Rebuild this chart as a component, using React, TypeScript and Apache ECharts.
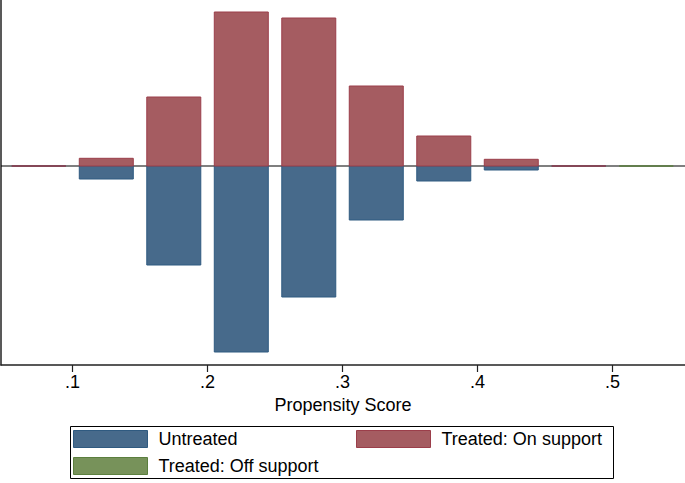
import React, { useEffect, useRef } from "react";
import * as echarts from "echarts";

const binCenters = [0.075, 0.125, 0.175, 0.225, 0.275, 0.325, 0.375, 0.425, 0.475, 0.525];
const untreated = [0, -1.3, -9.9, -18.6, -13.1, -5.4, -1.5, -0.4, 0, null];
const treatedOn = [0, 0.77, 6.9, 15.4, 14.8, 8.0, 3.0, 0.67, 0, null];
const treatedOff = [null, null, null, null, null, null, null, null, null, 0];
const tickValues = [0.1, 0.2, 0.3, 0.4, 0.5];
const tickLabels = [".1", ".2", ".3", ".4", ".5"];

const HALF = 0.02;
const FONT = "'Liberation Sans', Arial, Helvetica, sans-serif";

function toPairs(vals: (number | null)[]) {
  const out: number[][] = [];
  vals.forEach((v, i) => {
    if (v !== null) out.push([binCenters[i], v]);
  });
  return out;
}

function barSeries(name: string, vals: (number | null)[], fill: string, stroke: string, z: number) {
  return {
    type: "custom",
    name,
    z,
    itemStyle: { color: fill, borderColor: stroke },
    encode: { x: 0, y: 1 },
    data: toPairs(vals),
    renderItem: (params: any, api: any) => {
      const c = api.value(0);
      const v = api.value(1);
      const p1 = api.coord([c - HALF, v]);
      const p2 = api.coord([c + HALF, 0]);
      return {
        type: "rect",
        shape: {
          x: p1[0],
          y: Math.min(p1[1], p2[1]),
          width: p2[0] - p1[0],
          height: Math.abs(p2[1] - p1[1]),
        },
        style: { fill, stroke, lineWidth: 1 },
      };
    },
  };
}

export default function App() {
  const ref = useRef<HTMLDivElement>(null);
  useEffect(() => {
    if (!ref.current) return;
    const chart = echarts.init(ref.current, undefined, { renderer: "svg" });
    const legendText = { fontFamily: FONT, fontSize: 18, color: "#000", padding: [0, 0, 0, 6] };
    const blue = "#476a8b";
    const blueB = "#2f5a80";
    const red = "#a55c61";
    const redB = "#9b3e4a";
    const green = "#77925a";
    const greenB = "#5b7f3e";
    chart.setOption({
      animation: false,
      backgroundColor: "#fff",
      grid: { left: 1, right: 0, top: 0, bottom: 118, containLabel: false },
      xAxis: {
        type: "value",
        min: 0.047,
        max: 0.5537,
        name: "Propensity Score",
        nameLocation: "middle",
        nameGap: 28,
        nameTextStyle: { fontFamily: FONT, fontSize: 18, color: "#000" },
        axisLine: { show: true, onZero: false, lineStyle: { color: "#222", width: 1.5 } },
        axisTick: { show: true, customValues: tickValues, length: 7, lineStyle: { color: "#222", width: 1.2 } },
        axisLabel: {
          customValues: tickValues,
          margin: 8,
          fontFamily: FONT,
          fontSize: 18,
          color: "#000",
          formatter: (v: number) => {
            const i = tickValues.findIndex((t) => Math.abs(t - v) < 1e-6);
            return i >= 0 ? tickLabels[i] : "";
          },
        },
        splitLine: { show: false },
      },
      yAxis: {
        type: "value",
        min: -19.9,
        max: 16.6,
        axisLine: { show: true, onZero: false, lineStyle: { color: "#222", width: 1.5 } },
        axisTick: { show: false },
        axisLabel: { show: false },
        splitLine: { show: false },
      },
      legend: [
        {
          data: [{ name: "Untreated", itemStyle: { color: blue, borderColor: blueB, borderWidth: 1 } }],
          left: 73, top: 430, padding: 0, itemWidth: 74, itemHeight: 17, icon: "rect",
          textStyle: legendText, selectedMode: false,
        },
        {
          data: [{ name: "Treated: On support", itemStyle: { color: red, borderColor: redB, borderWidth: 1 } }],
          left: 356, top: 430, padding: 0, itemWidth: 74, itemHeight: 17, icon: "rect",
          textStyle: legendText, selectedMode: false,
        },
        {
          data: [{ name: "Treated: Off support", itemStyle: { color: green, borderColor: greenB, borderWidth: 1 } }],
          left: 73, top: 457, padding: 0, itemWidth: 74, itemHeight: 17, icon: "rect",
          textStyle: legendText, selectedMode: false,
        },
      ],
      graphic: [
        {
          type: "rect",
          shape: { x: 70.5, y: 426.5, width: 543, height: 52 },
          style: { fill: "none", stroke: "#000", lineWidth: 1 },
          silent: true,
        },
      ],
      series: [
        {
          type: "line",
          name: "zero",
          z: 1,
          symbol: "none",
          silent: true,
          lineStyle: { color: "#000", width: 1.2 },
          data: [[0.047, 0], [0.5537, 0]],
        },
        barSeries("Untreated", untreated, blue, blueB, 2),
        barSeries("Treated: On support", treatedOn, red, redB, 3),
        barSeries("Treated: Off support", treatedOff, green, greenB, 4),
      ],
    });
    return () => chart.dispose();
  }, []);
  return <div ref={ref} style={{ position: "fixed", left: 0, top: 0, width: 685, height: 483 }} />;
}
